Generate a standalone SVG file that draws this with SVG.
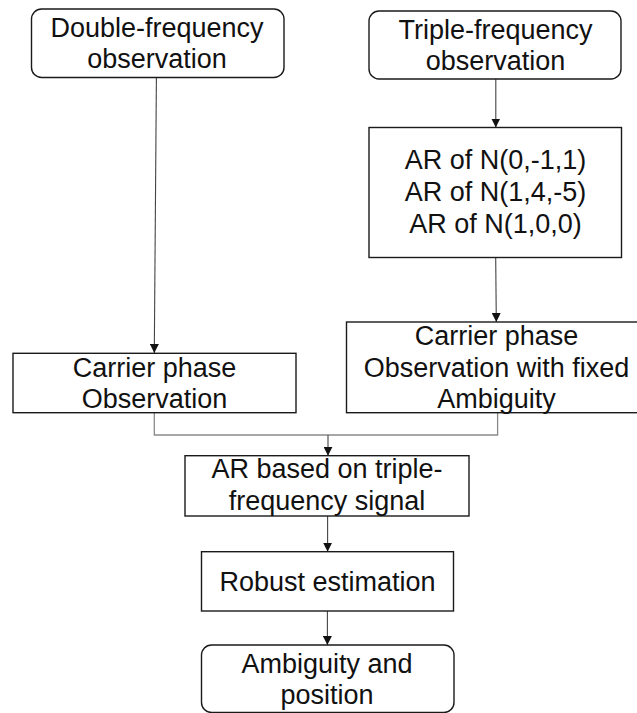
<svg xmlns="http://www.w3.org/2000/svg" width="637" height="713" viewBox="0 0 637 713">
<style>
.box{fill:#fff;stroke:#1a1a1a;stroke-width:1.4}
.t{font-family:"Liberation Sans",Arial,sans-serif;font-size:27px;fill:#111;text-anchor:middle}
.arr{fill:none;stroke:#444;stroke-width:1.1;marker-end:url(#ah)}
.link{fill:none;stroke:#8a8a8a;stroke-width:1.3}
</style>
<defs>
<marker id="ah" markerUnits="userSpaceOnUse" markerWidth="9" markerHeight="9" refX="9" refY="4.5" orient="auto">
<path d="M0,0 L9,4.5 L0,9 z" fill="#111"/>
</marker>
</defs>
<rect width="637" height="713" fill="#fff"/>
<g id="connectors">
<line class="arr" x1="156.4" y1="77.5" x2="154.3" y2="353"/>
<line class="arr" x1="495.8" y1="79" x2="495.8" y2="127.5"/>
<line class="arr" x1="495.7" y1="257.7" x2="496.3" y2="322"/>
<polyline class="link" points="154.3,412.7 154.3,435 497.6,435 497.6,412.7"/>
<line class="arr" x1="328" y1="435" x2="328" y2="455.7"/>
<line class="arr" x1="327.6" y1="516" x2="327.6" y2="551.7"/>
<line class="arr" x1="327.4" y1="611" x2="327.4" y2="645"/>
</g>
<g id="n_double">
<rect class="box" x="31.5" y="9" width="252.5" height="68.5" rx="10"/>
<text class="t" x="157" y="36.7">Double-frequency</text>
<text class="t" x="157" y="68.3">observation</text>
</g>
<g id="n_triple">
<rect class="box" x="369" y="11" width="252" height="68" rx="10"/>
<text class="t" x="495.5" y="38.5">Triple-frequency</text>
<text class="t" x="495.5" y="70">observation</text>
</g>
<g id="n_ar">
<rect class="box" x="369" y="127.5" width="252.5" height="130"/>
<text class="t" x="495.5" y="169">AR of N(0,-1,1)</text>
<text class="t" x="495.5" y="201">AR of N(1,4,-5)</text>
<text class="t" x="495.5" y="233">AR of N(1,0,0)</text>
</g>
<g id="n_carrier_left">
<rect class="box" x="13" y="353.3" width="283" height="59.4"/>
<text class="t" x="154.5" y="376.5">Carrier phase</text>
<text class="t" x="154.5" y="408.3">Observation</text>
</g>
<g id="n_carrier_right">
<rect class="box" x="346.5" y="322" width="302" height="90.7"/>
<text class="t" x="496.5" y="344.5">Carrier phase</text>
<text class="t" x="496.5" y="376.5">Observation with fixed</text>
<text class="t" x="496.5" y="408.3">Ambiguity</text>
</g>
<g id="n_ar_triple">
<rect class="box" x="185" y="455.7" width="284" height="60.3"/>
<text class="t" x="327" y="478">AR based on triple-</text>
<text class="t" x="327" y="510">frequency signal</text>
</g>
<g id="n_robust">
<rect class="box" x="201.5" y="551.7" width="252" height="59.3"/>
<text class="t" x="327.5" y="591">Robust estimation</text>
</g>
<g id="n_result">
<rect class="box" x="201.5" y="645" width="252.5" height="67.5" rx="10"/>
<text class="t" x="327" y="672.5">Ambiguity and</text>
<text class="t" x="327" y="703.5">position</text>
</g>
</svg>
